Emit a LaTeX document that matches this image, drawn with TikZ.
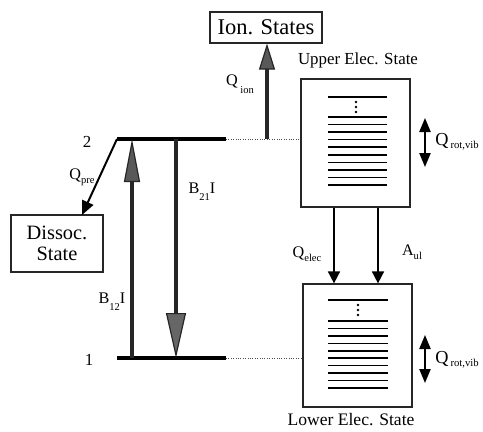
\documentclass[tikz,border=0pt]{standalone}
\usepackage{fontspec}
\setmainfont{Liberation Serif}
\usetikzlibrary{arrows.meta, positioning}

% lowered small subscript
\newcommand{\sbs}[2][-3pt]{\raisebox{#1}{\fontsize{7.5}{8}\selectfont #2}}

\tikzset{
  statebox/.style={draw=black!85, line width=0.3mm, inner sep=0pt, align=center},
  levelline/.style={line width=0.9mm},
  dotline/.style={densely dotted, line width=0.25mm, black!70},
  sublevel/.style={line width=0.4mm},
  fatarrow/.style={draw=black!85, line width=1.2mm},
  thinarrow/.style={line width=0.4mm, -{Triangle[length=3mm, width=3mm]}},
  twoway/.style={line width=0.4mm, {Triangle[length=3.5mm, width=2.8mm]}-{Triangle[length=3.5mm, width=2.8mm]}},
  lbl/.style={font=\fontsize{11.5}{12}\selectfont, inner sep=0pt},
}

\begin{document}
\begin{tikzpicture}[x=0.25mm, y=-0.25mm]
    \useasboundingbox (0,0) rectangle (483,431);

    % boxes
    \node[statebox, minimum width=28mm, minimum height=7.75mm,
          font=\fontsize{16}{18}\selectfont] (ion) at (266,27.5) {Ion. States};
    \node[statebox, minimum width=27.25mm, minimum height=32mm] (upper) at (355.5,143) {};
    \node[statebox, minimum width=27.25mm, minimum height=30.75mm] (lower) at (357.5,345.5) {};
    \node[statebox, minimum width=23mm, minimum height=14.25mm,
          font=\fontsize{14.5}{15}\selectfont] (dissoc) at (57,243.5) {Dissoc.\\State};
    \node[font=\fontsize{12}{13}\selectfont] (upname) at (358,60) {Upper Elec. State};
    \node[font=\fontsize{12.5}{13}\selectfont] (lowname) at (351,420) {Lower Elec. State};

    % sub levels in the boxes
    \draw[sublevel] (328,97) -- (387,97);
    \foreach \k in {0,...,9}
        \draw[sublevel] (328,{117+7.55*\k}) -- (387,{117+7.55*\k});
    \foreach \d in {102,107,112}
        \fill (356,\d) circle (0.35mm);
    \draw[sublevel] (328,300) -- (388,300);
    \foreach \k in {0,...,9}
        \draw[sublevel] (328,{321+7.44*\k}) -- (388,{321+7.44*\k});
    \foreach \d in {305,310,315}
        \fill (358,\d) circle (0.35mm);

    % levels 2 and 1
    \coordinate (L2w) at (117,139);
    \coordinate (L2e) at (226,139);
    \coordinate (L1w) at (117,358);
    \coordinate (L1e) at (226,358);
    \draw[levelline] (L2w) -- (L2e);
    \draw[levelline] (L1w) -- (L1e);
    \draw[dotline] (L2e) -- (upper.west |- L2e);
    \draw[dotline] (L1e) -- (lower.west |- L1e);
    \node[font=\fontsize{12}{13}\selectfont] (n2) at (87,142) {2};
    \node[font=\fontsize{12}{13}\selectfont] (n1) at (89,360) {1};

    % absorption and stimulated emission
    \coordinate (b12s) at (132,358);
    \coordinate (b12t) at (132,139);
    \coordinate (b21s) at (176,139);
    \coordinate (b21t) at (176,358);
    \draw[fatarrow, -{Triangle[length=10.75mm, width=4mm, fill=black!65, line width=0.3mm]}] (b12s) -- (b12t);
    \draw[fatarrow, line width=0.8mm, -{Triangle[length=11.25mm, width=5mm, fill=black!60, line width=0.3mm]}] (b21s) -- (b21t);
    \node[lbl] (b12) at (112,302) {B\sbs[-5pt]{12}I};
    \node[lbl] (b21) at (202,192) {B\sbs[-5pt]{21}I};

    % ionisation
    \coordinate (qion0) at (267,139);
    \draw[fatarrow, -{Triangle[length=6.5mm, width=4mm, fill=black!65, line width=0.3mm]}] (qion0) -- (ion.south -| qion0);
    \node[lbl] (qion) at (240,84) {Q\,\sbs[-6pt]{ion}};

    % predissociation
    \coordinate (pretip) at (82,215);
    \draw[line width=0.5mm, -{Triangle[length=3.5mm, width=3mm]}] (L2w) -- (pretip);
    \node[lbl] (qpre) at (82,177) {Q\sbs{pre}};

    % upper to lower
    \coordinate (qex) at (334,0);
    \coordinate (aux) at (378,0);
    \draw[thinarrow] (upper.south -| qex) -- (lower.north -| qex);
    \draw[thinarrow] (upper.south -| aux) -- (lower.north -| aux);
    \node[lbl] (qelec) at (307,254) {Q\sbs{elec}};
    \node[lbl] (aul) at (412,252) {A\sbs{ul}};

    % rot/vib transfer
    \coordinate (rvu1) at (425,118);
    \coordinate (rvu2) at (425,167);
    \coordinate (rvl1) at (425,335);
    \coordinate (rvl2) at (425,383);
    \draw[twoway] (rvu1) -- (rvu2);
    \draw[twoway] (rvl1) -- (rvl2);
    \node[inner sep=0pt, anchor=west, font=\fontsize{13}{14}\selectfont] (rvup) at (435,142)
        {Q\hspace{1.5pt}\raisebox{-2pt}{\fontsize{7.6}{8}\selectfont rot,vib}};
    \node[inner sep=0pt, anchor=west, font=\fontsize{13}{14}\selectfont] (rvlow) at (435,360)
        {Q\hspace{1.5pt}\raisebox{-2pt}{\fontsize{7.6}{8}\selectfont rot,vib}};
\end{tikzpicture}
\end{document}
